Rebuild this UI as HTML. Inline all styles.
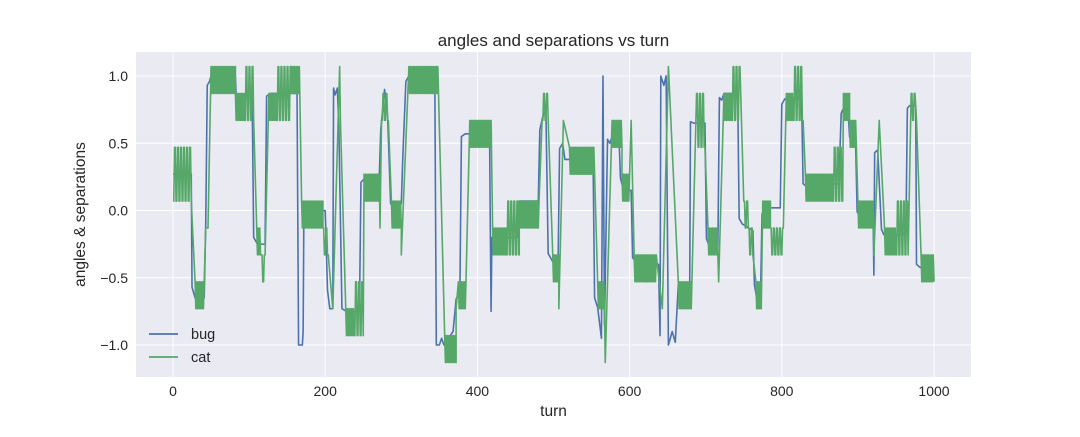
<!DOCTYPE html>
<html><head><meta charset="utf-8"><style>
body{margin:0;background:#fff;}
svg text{font-family:"Liberation Sans","DejaVu Sans",sans-serif;fill:#262626;}
</style></head><body>
<svg id="chart" width="1080" height="432" viewBox="0 0 1080 432" xmlns="http://www.w3.org/2000/svg">
<rect x="136" y="52" width="835" height="325" fill="#eaeaf2"/>
<g id="grid"></g><g id="ticks"></g>
<g id="series"></g>
<text x="553.5" y="46" font-size="17" text-anchor="middle">angles and separations vs turn</text>
<text x="553.5" y="416" font-size="15.5" text-anchor="middle">turn</text>
<text x="85" y="214.5" font-size="15.5" text-anchor="middle" transform="rotate(-90 85 214.5)">angles &amp; separations</text>
<g>
<line x1="149" y1="334" x2="178" y2="334" stroke="#4c72b0" stroke-width="1.8"/>
<text x="191" y="339" font-size="14.5">bug</text>
<line x1="149" y1="357" x2="178" y2="357" stroke="#55a868" stroke-width="1.8"/>
<text x="191" y="362" font-size="14.5">cat</text>
</g>
</svg>
<script>
const xTicks=[0,200,400,600,800,1000];
const yTicks=[-1.0,-0.5,0.0,0.5,1.0];
const yTickLabels=["\u22121.0","\u22120.5","0.0","0.5","1.0"];
const bugTurns=[0,24,25,29,41,43,45,48,50,82,83,104,106,111,121,123,128,163,165,170,171,172,200,203,206,210,211,213,216,218,222,228,245,247,252,271,273,278,282,286,300,302,306,310,344,346,350,353,356,368,372,377,379,384,416,417,418,419,452,455,480,482,486,490,493,499,506,508,512,515,552,554,558,563,565,567,571,574,577,586,588,592,602,604,610,638,640,641,645,648,651,656,660,664,679,680,684,699,701,705,716,718,721,724,742,744,748,762,764,767,772,774,777,798,800,804,826,828,832,875,878,880,887,889,892,897,899,903,920,921,922,926,931,934,963,965,968,976,977,981,1000];
const bugValues=[0.27,0.27,-0.57,-0.65,-0.65,-0.1,0.93,0.96,1.0,1.0,0.86,0.86,-0.2,-0.25,-0.25,0.85,0.87,0.87,-1.0,-1.0,-0.9,0.0,0.0,-0.59,-0.73,-0.73,0.91,0.86,0.91,0.6,-0.73,-0.75,-0.75,0.21,0.24,0.24,0.6,0.9,0.7,0.05,0.05,0.4,0.96,1.0,1.0,-1.0,-1.0,-0.95,-1.0,-0.9,-0.66,-0.6,0.55,0.57,0.57,-0.16,-0.75,-0.2,-0.2,0.07,0.07,0.6,0.7,0.75,-0.32,-0.38,-0.4,0.46,0.5,0.38,0.38,-0.65,-0.72,-0.95,1.0,-0.85,0.53,0.5,0.55,0.55,0.24,0.15,0.15,-0.35,-0.4,-0.4,-0.93,1.0,0.93,1.0,-1.0,-0.9,-0.98,-0.55,-0.55,0.66,0.65,0.65,-0.21,-0.27,-0.27,0.84,0.82,0.87,0.87,-0.06,-0.1,-0.15,-0.55,-0.65,-0.65,-0.03,0.02,0.02,0.79,0.83,0.83,0.2,0.18,0.2,0.72,0.75,0.75,0.55,0.5,0.5,-0.01,-0.05,-0.05,-0.48,0.43,0.45,-0.14,-0.18,-0.18,0.76,0.78,0.78,-0.4,-0.42,-0.47];
const catStart=[0,29,43,50,82,94,110,116,126,136,155,169,197,210,219,220,228,238,251,272,274,287,300,310,357,372,375,390,420,438,455,485,499,507,513,521,558,568,577,590,602,606,622,643,651,664,688,703,717,724,734,750,756,766,775,785,806,815,831,867,881,889,900,921,928,935,950,970,977,983];
const catEnd=[24,41,46,82,94,106,115,121,136,155,166,197,204,210,219,220,238,250,271,272,283,300,300,348,372,372,385,418,438,455,481,493,507,507,513,554,567,568,590,600,602,622,635,643,651,681,699,716,717,734,745,756,762,773,785,802,815,828,867,880,889,898,920,921,928,950,966,975,977,1000];
const catBase=[0.07,-0.53,-0.13,1.07,0.87,0.67,-0.13,-0.33,0.87,0.67,0.87,0.07,-0.13,-0.73,1.07,0.67,-0.93,-0.93,0.27,-0.13,0.67,0.07,-0.33,1.07,-0.93,-0.73,-0.53,0.67,-0.13,-0.33,0.07,0.67,-0.33,-0.73,0.67,0.47,-0.53,-1.13,0.67,0.27,0.67,-0.33,-0.53,-0.73,1.07,-0.53,0.87,-0.13,-0.53,0.87,0.67,0.07,-0.13,-0.53,0.07,-0.13,0.87,0.67,0.27,0.07,0.87,0.67,0.07,-0.33,0.67,-0.13,-0.33,0.87,0.67,-0.33];
const catAlt=[0.47,-0.73,-0.13,0.87,0.67,1.07,-0.33,-0.53,0.67,1.07,1.07,-0.13,-0.33,-0.73,1.07,0.67,-0.73,-0.53,0.07,-0.13,0.87,-0.13,-0.33,0.87,-1.13,-0.73,-0.73,0.47,-0.33,0.07,-0.13,0.87,-0.53,-0.73,0.47,0.27,-0.73,-1.13,0.47,0.07,0.67,-0.53,-0.33,-0.73,1.07,-0.73,0.47,-0.33,-0.53,0.67,1.07,-0.13,-0.33,-0.73,-0.13,-0.33,0.67,1.07,0.07,0.47,0.67,0.47,-0.13,-0.33,0.67,-0.33,0.07,0.67,0.67,-0.53];
const catStep=[2,1,1,1,1,2,1,2,1,2,1,1,2,1,1,1,1,2,1,1,2,1,1,1,1,1,1,1,1,2,1,2,1,1,1,1,1,1,1,1,1,1,1,1,1,1,2,1,1,1,2,2,2,1,1,2,1,2,1,2,1,1,1,1,1,1,2,2,1,1];

const NS="http://www.w3.org/2000/svg";
const L=136,R=971,T=52,B=377;
function xs(v){return 173+(v-0)*0.761;}
function ys(v){return 210.5-v*134.5;}
const grid=document.getElementById('grid'),ticks=document.getElementById('ticks'),series=document.getElementById('series');
xTicks.forEach(v=>{
  const l=document.createElementNS(NS,'line');
  
  
  l.setAttribute('x1',xs(v));l.setAttribute('x2',xs(v));l.setAttribute('y1',T);l.setAttribute('y2',B);
  l.setAttribute('stroke','#fff');l.setAttribute('stroke-width','1');grid.appendChild(l);
  const t=document.createElementNS(NS,'text');
  
  
  t.setAttribute('x',xs(v));t.setAttribute('y',B+19);t.setAttribute('font-size','14');t.setAttribute('text-anchor','middle');
  t.textContent=String(v);ticks.appendChild(t);
});
yTicks.forEach((v,i)=>{
  const l=document.createElementNS(NS,'line');
  
  
  l.setAttribute('x1',L);l.setAttribute('x2',R);l.setAttribute('y1',ys(v));l.setAttribute('y2',ys(v));
  l.setAttribute('stroke','#fff');l.setAttribute('stroke-width','1');grid.appendChild(l);
  const t=document.createElementNS(NS,'text');
  
  
  t.setAttribute('x',L-8);t.setAttribute('y',ys(v)+5);t.setAttribute('font-size','14');t.setAttribute('text-anchor','end');
  t.textContent=yTickLabels[i];ticks.appendChild(t);
});
let d='';
bugTurns.forEach((t,i)=>{d+=(i?'L':'M')+xs(t).toFixed(2)+','+ys(bugValues[i]).toFixed(2);});
const bug=document.createElementNS(NS,'path');


bug.setAttribute('d',d);bug.setAttribute('fill','none');bug.setAttribute('stroke','#4c72b0');bug.setAttribute('stroke-width','1.6');bug.setAttribute('stroke-linejoin','round');
series.appendChild(bug);
let pts=[];
catStart.forEach((s,i)=>{
  for(let t=s;t<=catEnd[i];t++){
    const k=Math.floor((t-s)/catStep[i])%2;
    pts.push([t,k?catAlt[i]:catBase[i]]);
  }
});
let dc='';
pts.forEach((p,i)=>{dc+=(i?'L':'M')+xs(p[0]).toFixed(2)+','+ys(p[1]).toFixed(2);});
const cat=document.createElementNS(NS,'path');


cat.setAttribute('d',dc);cat.setAttribute('fill','none');cat.setAttribute('stroke','#55a868');cat.setAttribute('stroke-width','1.6');cat.setAttribute('stroke-linejoin','round');
series.appendChild(cat);
</script>
</body></html>
